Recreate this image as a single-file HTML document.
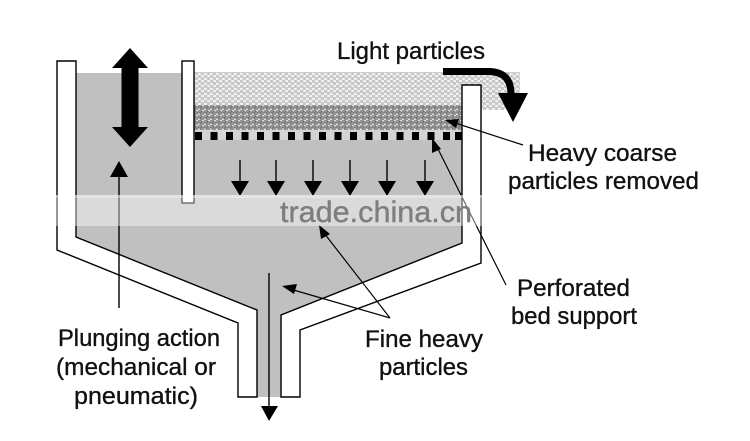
<!DOCTYPE html>
<html><head><meta charset="utf-8"><style>
html,body{margin:0;padding:0;background:#fff;}
svg{display:block;}
text{font-family:"Liberation Sans",Arial,sans-serif;fill:#111;}
</style></head><body>
<svg width="750" height="441" viewBox="0 0 750 441" xmlns="http://www.w3.org/2000/svg">
<defs>
<pattern id="lt" width="6" height="5" patternUnits="userSpaceOnUse">
<rect width="6" height="5" fill="#f2f2f2"/>
<circle cx="1.5" cy="1.2" r="1.8" fill="#c8c8c8"/>
<circle cx="4.5" cy="3.7" r="1.8" fill="#c8c8c8"/>
</pattern>
<pattern id="dk" width="6" height="5" patternUnits="userSpaceOnUse">
<rect width="6" height="5" fill="#dcdcdc"/>
<circle cx="1.5" cy="1.2" r="2" fill="#959595" stroke="#5e5e5e" stroke-width="0.6"/>
<circle cx="4.5" cy="3.7" r="2" fill="#959595" stroke="#5e5e5e" stroke-width="0.6"/>
</pattern>
</defs>

<!-- gray fluid -->
<polygon points="76,73 182,73 182,140 462,140 462,243 281,315 281,397 257,397 257,310 76,237" fill="#c0c0c0"/>
<rect x="194" y="130" width="268" height="10" fill="#d4d4d4"/>

<!-- patterns -->
<rect x="194" y="72" width="326" height="33" fill="url(#lt)"/>
<rect x="481" y="105" width="36" height="5" fill="url(#lt)"/>
<rect x="194" y="105" width="268" height="25" fill="url(#dk)"/>

<!-- perforated squares -->
<g fill="#000">
<rect x="195" y="132" width="7" height="8"/><rect x="210.5" y="132" width="7" height="8"/><rect x="226" y="132" width="7" height="8"/><rect x="241.5" y="132" width="7" height="8"/><rect x="257" y="132" width="7" height="8"/><rect x="272.5" y="132" width="7" height="8"/><rect x="288" y="132" width="7" height="8"/><rect x="303.5" y="132" width="7" height="8"/><rect x="319" y="132" width="7" height="8"/><rect x="334.5" y="132" width="7" height="8"/><rect x="350" y="132" width="7" height="8"/><rect x="365.5" y="132" width="7" height="8"/><rect x="381" y="132" width="7" height="8"/><rect x="396.5" y="132" width="7" height="8"/><rect x="412" y="132" width="7" height="8"/><rect x="427.5" y="132" width="7" height="8"/><rect x="443" y="132" width="7" height="8"/><rect x="455" y="132" width="7" height="8"/>
</g>

<!-- walls -->
<g fill="#fff" stroke="#000" stroke-width="1.4">
<polygon points="57,61 76,61 76,237 257,310 257,397 238,397 238,323 57,250"/>
<polygon points="462,85 481,85 481,263 300,330 300,397 281,397 281,315 462,243"/>
<rect x="182" y="61" width="12" height="142"/>
</g>

<!-- double arrow -->
<polygon points="130,48 148,68 138.5,68 138.5,127 148,127 130,147 112,127 121.5,127 121.5,68 112,68" fill="#000"/>

<!-- plunger pointer -->
<line x1="119" y1="176" x2="119" y2="308" stroke="#000" stroke-width="1.4"/>
<polygon points="119,161 128,177 110,177" fill="#000"/>

<!-- down arrows -->
<g stroke="#000" stroke-width="1.4">
<line x1="240" y1="160" x2="240" y2="184"/><line x1="276" y1="160" x2="276" y2="184"/><line x1="313" y1="160" x2="313" y2="184"/><line x1="350" y1="160" x2="350" y2="184"/><line x1="387" y1="160" x2="387" y2="184"/><line x1="425" y1="160" x2="425" y2="184"/>
</g>
<g fill="#000">
<polygon points="231,181 249,181 240,196"/><polygon points="267,181 285,181 276,196"/><polygon points="304,181 322,181 313,196"/><polygon points="341,181 359,181 350,196"/><polygon points="378,181 396,181 387,196"/><polygon points="416,181 434,181 425,196"/>
</g>

<!-- central outlet arrow -->
<line x1="269" y1="273" x2="269" y2="408" stroke="#000" stroke-width="1.4"/>
<polygon points="261,406 278,406 269,421" fill="#000"/>

<!-- curved light particles arrow -->
<path d="M443,71.5 H489 Q511,72 511,94" fill="none" stroke="#000" stroke-width="7"/>
<polygon points="498,93 528,93 513,122" fill="#000"/>

<!-- pointer lines -->
<g stroke="#000" stroke-width="1.2" fill="none">
<line x1="523" y1="145" x2="452" y2="122"/>
<line x1="506" y1="285" x2="436" y2="145"/>
<line x1="390" y1="318" x2="290" y2="289"/>
<line x1="390" y1="318" x2="324" y2="233"/>
</g>
<g fill="#000">
<polygon points="445,120 459,119 456,128"/>
<polygon points="432,138 441,149 432,153"/>
<polygon points="282,286 297,284 294,294"/>
<polygon points="319,225 330,234 321,239"/>
</g>

<!-- watermark band -->
<rect x="0" y="195" width="750" height="31" fill="#fff" opacity="0.42"/>
<rect x="0" y="195" width="750" height="3" fill="#fff" opacity="0.3"/>
<text x="280" y="222" font-size="30" textLength="192" lengthAdjust="spacingAndGlyphs" style="fill:#7e7e7e;stroke:#7e7e7e;stroke-width:0.4">trade.china.cn</text>

<!-- labels -->
<g font-size="24" style="stroke:#111;stroke-width:0.35">
<text x="337" y="59" textLength="148" lengthAdjust="spacingAndGlyphs">Light particles</text>
<text x="528" y="161" textLength="149" lengthAdjust="spacingAndGlyphs">Heavy coarse</text>
<text x="508" y="189" textLength="191" lengthAdjust="spacingAndGlyphs">particles removed</text>
<text x="517" y="296" textLength="113" lengthAdjust="spacingAndGlyphs">Perforated</text>
<text x="511" y="324" textLength="126" lengthAdjust="spacingAndGlyphs">bed support</text>
<text x="365" y="347" textLength="118" lengthAdjust="spacingAndGlyphs">Fine heavy</text>
<text x="379" y="375" textLength="89" lengthAdjust="spacingAndGlyphs">particles</text>
<text x="58" y="346" textLength="162" lengthAdjust="spacingAndGlyphs">Plunging action</text>
<text x="56" y="375" textLength="160" lengthAdjust="spacingAndGlyphs">(mechanical or</text>
<text x="74" y="404" textLength="124" lengthAdjust="spacingAndGlyphs">pneumatic)</text>
</g>
</svg>
</body></html>
